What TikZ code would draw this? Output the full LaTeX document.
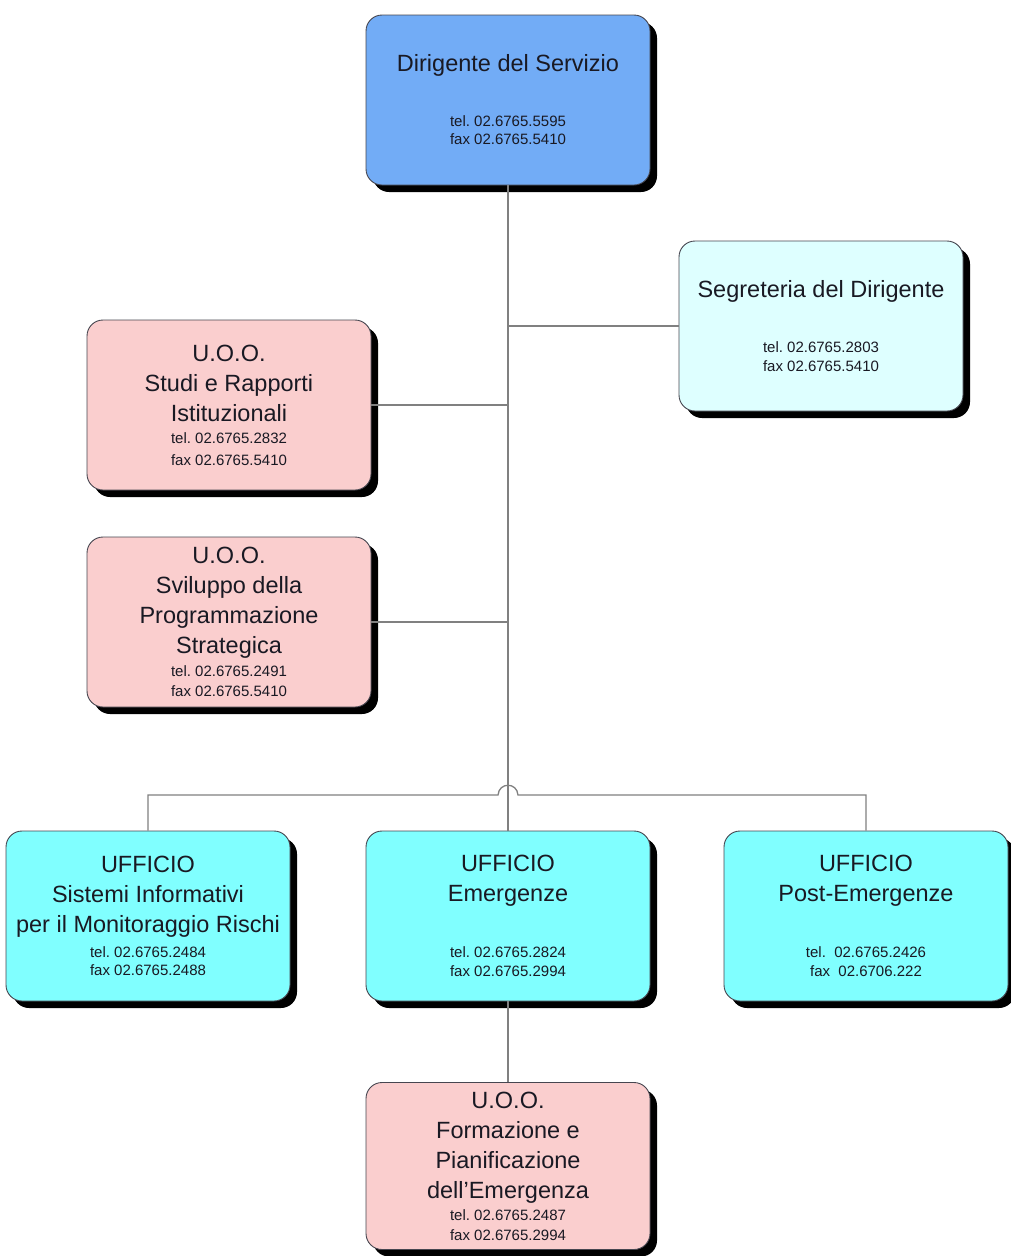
\documentclass[tikz,border=0pt]{standalone}
\usepackage{fontspec}
\setmainfont{Liberation Sans}
\usetikzlibrary{shadows,calc}
\frenchspacing

\definecolor{headblue}{RGB}{114,172,246}
\definecolor{palecyan}{RGB}{222,255,255}
\definecolor{uoopink}{RGB}{250,206,206}
\definecolor{officecyan}{RGB}{128,255,255}
\definecolor{linkgray}{RGB}{128,128,128}
\definecolor{edgegray}{RGB}{70,70,80}
\definecolor{inktext}{RGB}{25,25,35}

\newcommand{\Phn}{\fontsize{15}{20}\selectfont}

\tikzset{
  unitbox/.style={
    draw=edgegray, line width=0.9pt, rounded corners=16pt,
    minimum width=284pt, minimum height=170pt, inner sep=0pt,
    align=center, text=inktext,
    font=\fontsize{23.5}{30}\selectfont,
    drop shadow={shadow xshift=7pt, shadow yshift=-7pt, fill=black, opacity=1}
  },
  headbox/.style={unitbox, fill=headblue},
  secbox/.style={unitbox, fill=palecyan},
  uoobox/.style={unitbox, fill=uoopink},
  officebox/.style={unitbox, fill=officecyan},
  link/.style={draw=linkgray, line width=1.3pt}
}

\begin{document}
\begin{tikzpicture}[x=1pt, y=-1pt]
  \useasboundingbox (0,0) rectangle (1011,1256);

  % boxes
  \node[headbox] (dir) at (508,100)
    {Dirigente del Servizio\\[25pt]{\Phn tel. 02.6765.5595}\\[-12pt]{\Phn fax 02.6765.5410}};
  \node[secbox] (seg) at (821,326)
    {Segreteria del Dirigente\\[25pt]{\Phn tel. 02.6765.2803}\\[-11pt]{\Phn fax 02.6765.5410}};
  \node[uoobox] (studi) at (229,405)
    {U.O.O.\\Studi e Rapporti\\Istituzionali\\[-8pt]{\Phn tel. 02.6765.2832}\\[-8pt]{\Phn fax 02.6765.5410}};
  \node[uoobox] (svil) at (229,622)
    {U.O.O.\\Sviluppo della\\Programmazione\\Strategica\\[-7pt]{\Phn tel. 02.6765.2491}\\[-10pt]{\Phn fax 02.6765.5410}};
  \node[officebox] (sist) at (148,916)
    {UFFICIO\\Sistemi Informativi\\per il Monitoraggio Rischi\\[-5pt]{\Phn tel. 02.6765.2484}\\[-12pt]{\Phn fax 02.6765.2488}};
  \node[officebox] (emer) at (508,916)
    {UFFICIO\\Emergenze\\[26pt]{\Phn tel. 02.6765.2824}\\[-11pt]{\Phn fax 02.6765.2994}};
  \node[officebox] (post) at (866,916)
    {UFFICIO\\Post-Emergenze\\[26pt]{\Phn tel.\ \ 02.6765.2426}\\[-11pt]{\Phn fax\ \ 02.6706.222}};
  \node[uoobox, minimum height=167pt] (form) at (508,1166)
    {U.O.O.\\Formazione e\\Pianificazione\\dell'Emergenza\\[-8pt]{\Phn tel. 02.6765.2487}\\[-10pt]{\Phn fax 02.6765.2994}};

  % junction point of the lower bus on the main trunk
  \coordinate (bus) at (dir.south |- 0,795);

  % main trunk and side branches
  \draw[link] (dir.south) -- (emer.north);
  \draw[link] (dir.south |- seg.west) -- (seg.west);
  \draw[link] (studi.east) -- (studi.east -| dir.south);
  \draw[link] (svil.east) -- (svil.east -| dir.south);
  \draw[link] (emer.south) -- (form.north);

  % horizontal bus with a hop over the trunk
  \draw[link] (sist.north) |- ($(bus)+(-10,0)$)
    .. controls ($(bus)+(-9,-13)$) and ($(bus)+(9,-13)$) .. ($(bus)+(10,0)$)
    -| (post.north);
\end{tikzpicture}
\end{document}
